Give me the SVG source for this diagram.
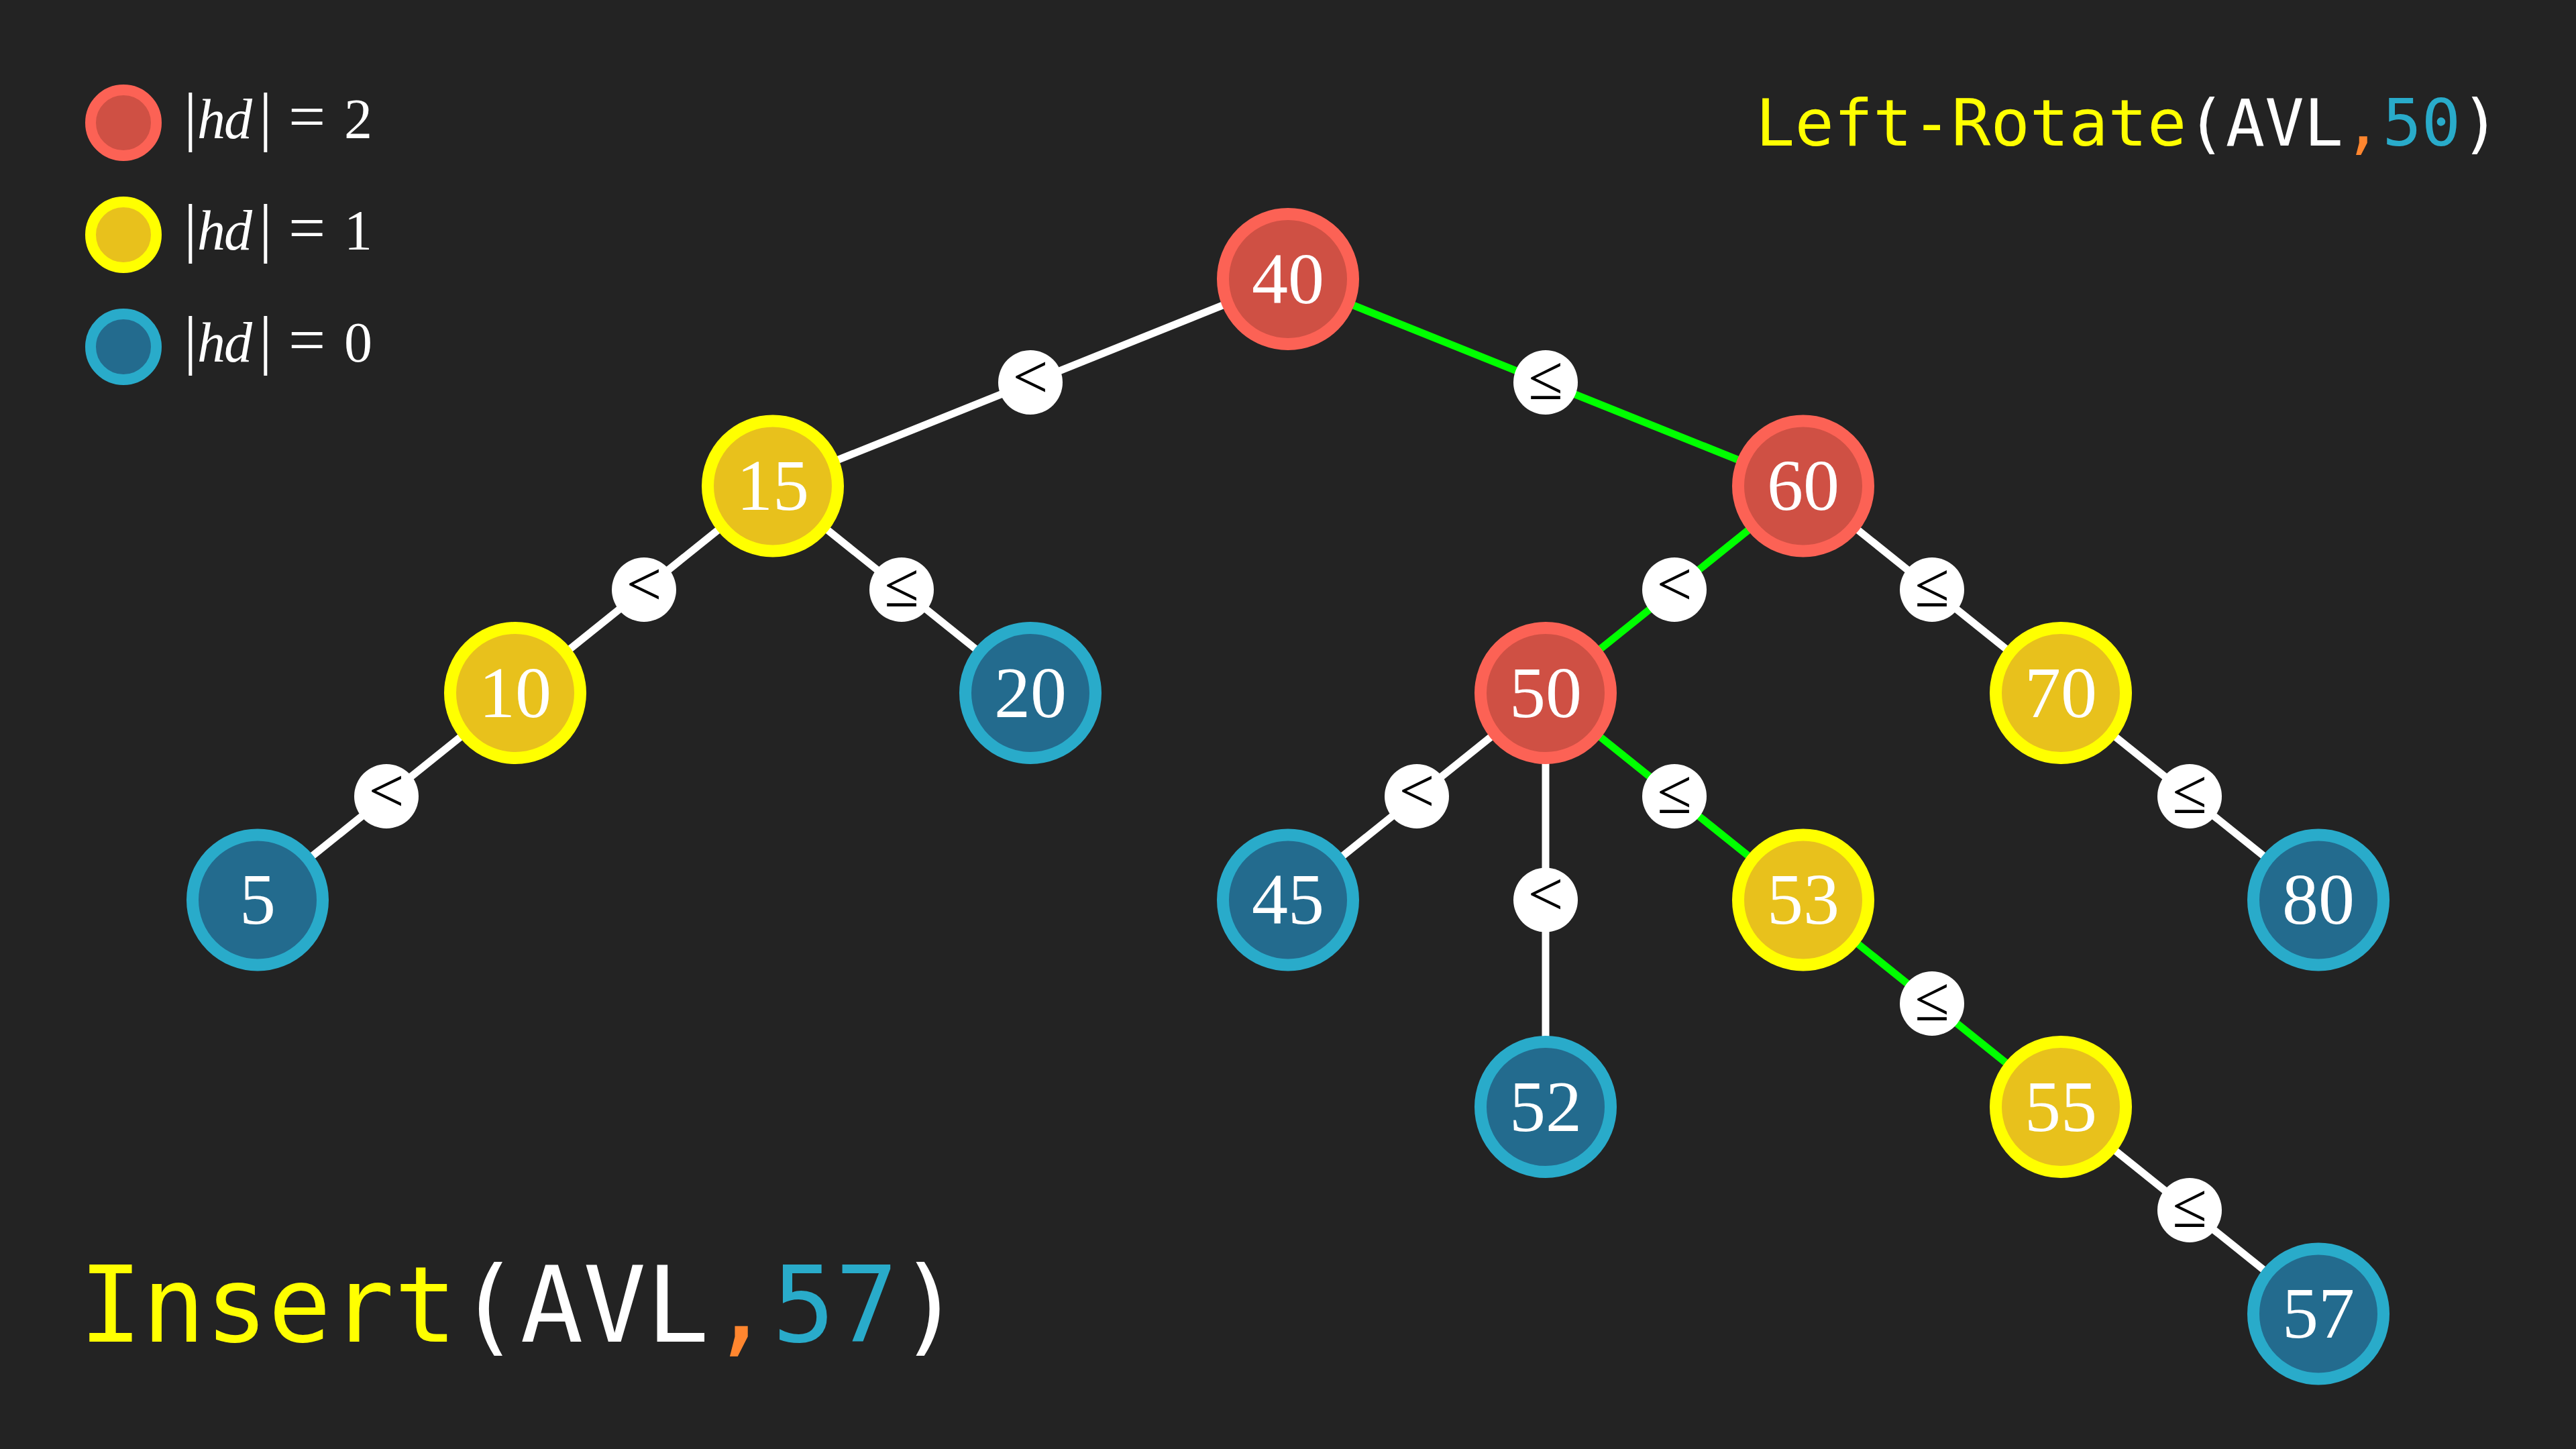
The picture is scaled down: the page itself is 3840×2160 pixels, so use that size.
<svg xmlns="http://www.w3.org/2000/svg" width="3840" height="2160" viewBox="0 0 3840 2160">
<style>
.bg{fill:#232323}
.e{stroke-width:11;stroke-linecap:butt}
.w{stroke:#FFFFFF}
.g{stroke:#00FF00}
.lc{fill:#FFFFFF}
.lt{font-family:"Liberation Serif","DejaVu Serif",serif;font-size:94px;fill:#000000;text-anchor:middle}
.red{fill:#CF5044;stroke:#FC6255;stroke-width:18}
.yel{fill:#E8C11C;stroke:#FFFF00;stroke-width:18}
.blu{fill:#236B8E;stroke:#29ABCA;stroke-width:18}
.nt{font-family:"Liberation Serif","DejaVu Serif",serif;font-size:108px;fill:#FFFFFF;text-anchor:middle}
.lg{font-family:"Liberation Serif","DejaVu Serif",serif;font-size:84px;fill:#FFFFFF}
.it{font-style:italic}
.big{font-size:98px}
.mono{font-family:"DejaVu Sans Mono","Liberation Mono",monospace}
</style>
<rect class="bg" x="0" y="0" width="3840" height="2160"/>

<g id="legend">
  <g id="legend-red">
    <circle cx="184" cy="183" r="49" fill="#CF5044" stroke="#FC6255" stroke-width="16"/>
    <text class="lg" y="206"><tspan class="big" x="274">|</tspan><tspan class="it" x="294">h</tspan><tspan class="it" x="334">d</tspan><tspan class="big" x="386">|</tspan><tspan class="big" x="430">=</tspan><tspan x="513">2</tspan></text>
  </g>
  <g id="legend-yellow">
    <circle cx="184" cy="350" r="49" fill="#E8C11C" stroke="#FFFF00" stroke-width="16"/>
    <text class="lg" y="372"><tspan class="big" x="274">|</tspan><tspan class="it" x="294">h</tspan><tspan class="it" x="334">d</tspan><tspan class="big" x="386">|</tspan><tspan class="big" x="430">=</tspan><tspan x="513">1</tspan></text>
  </g>
  <g id="legend-blue">
    <circle cx="184" cy="517" r="49" fill="#236B8E" stroke="#29ABCA" stroke-width="16"/>
    <text class="lg" y="539"><tspan class="big" x="274">|</tspan><tspan class="it" x="294">h</tspan><tspan class="it" x="334">d</tspan><tspan class="big" x="386">|</tspan><tspan class="big" x="430">=</tspan><tspan x="513">0</tspan></text>
  </g>
</g>

<g id="title">
  <text class="mono" x="2617" y="217" font-size="97"><tspan fill="#FFFF00">Left-Rotate</tspan><tspan fill="#FFFFFF">(AVL</tspan><tspan fill="#FF862F">,</tspan><tspan fill="#29ABCA">50</tspan><tspan fill="#FFFFFF">)</tspan></text>
</g>

<g id="operation">
  <text class="mono" x="118" y="2000" font-size="156"><tspan fill="#FFFF00">Insert</tspan><tspan fill="#FFFFFF">(AVL</tspan><tspan fill="#FF862F">,</tspan><tspan fill="#29ABCA">57</tspan><tspan fill="#FFFFFF">)</tspan></text>
</g>

<g id="connectors">
  <line class="e w" x1="1920" y1="416" x2="1152" y2="724.5"/>
  <line class="e g" x1="1920" y1="416" x2="2688" y2="724.5"/>
  <line class="e w" x1="1152" y1="724.5" x2="768" y2="1033"/>
  <line class="e w" x1="1152" y1="724.5" x2="1536" y2="1033"/>
  <line class="e w" x1="768" y1="1033" x2="384" y2="1341.5"/>
  <line class="e g" x1="2688" y1="724.5" x2="2304" y2="1033"/>
  <line class="e w" x1="2688" y1="724.5" x2="3072" y2="1033"/>
  <line class="e w" x1="2304" y1="1033" x2="1920" y2="1341.5"/>
  <line class="e w" x1="2304" y1="1033" x2="2304" y2="1650"/>
  <line class="e g" x1="2304" y1="1033" x2="2688" y2="1341.5"/>
  <line class="e w" x1="3072" y1="1033" x2="3456" y2="1341.5"/>
  <line class="e g" x1="2688" y1="1341.5" x2="3072" y2="1650"/>
  <line class="e w" x1="3072" y1="1650" x2="3456" y2="1958.5"/>

  <g id="edge-labels">
    <circle class="lc" cx="1536" cy="570" r="48"/><text class="lt" x="1536" y="593">&lt;</text>
    <circle class="lc" cx="2304" cy="570" r="48"/><text class="lt" x="2304" y="595">≤</text>
    <circle class="lc" cx="960" cy="879" r="48"/><text class="lt" x="960" y="902">&lt;</text>
    <circle class="lc" cx="1344" cy="879" r="48"/><text class="lt" x="1344" y="904">≤</text>
    <circle class="lc" cx="576" cy="1187" r="48"/><text class="lt" x="576" y="1210">&lt;</text>
    <circle class="lc" cx="2496" cy="879" r="48"/><text class="lt" x="2496" y="902">&lt;</text>
    <circle class="lc" cx="2880" cy="879" r="48"/><text class="lt" x="2880" y="904">≤</text>
    <circle class="lc" cx="2112" cy="1187" r="48"/><text class="lt" x="2112" y="1210">&lt;</text>
    <circle class="lc" cx="2304" cy="1341.5" r="48"/><text class="lt" x="2304" y="1364">&lt;</text>
    <circle class="lc" cx="2496" cy="1187" r="48"/><text class="lt" x="2496" y="1212">≤</text>
    <circle class="lc" cx="3264" cy="1187" r="48"/><text class="lt" x="3264" y="1212">≤</text>
    <circle class="lc" cx="2880" cy="1496" r="48"/><text class="lt" x="2880" y="1521">≤</text>
    <circle class="lc" cx="3264" cy="1804" r="48"/><text class="lt" x="3264" y="1829">≤</text>
  </g>
</g>

<g id="node-40"><circle class="red" cx="1920" cy="416" r="97"/><text class="nt" x="1920" y="452">40</text></g>
<g id="node-15"><circle class="yel" cx="1152" cy="724.5" r="97"/><text class="nt" x="1152" y="760">15</text></g>
<g id="node-60"><circle class="red" cx="2688" cy="724.5" r="97"/><text class="nt" x="2688" y="760">60</text></g>
<g id="node-10"><circle class="yel" cx="768" cy="1033" r="97"/><text class="nt" x="768" y="1069">10</text></g>
<g id="node-20"><circle class="blu" cx="1536" cy="1033" r="97"/><text class="nt" x="1536" y="1069">20</text></g>
<g id="node-50"><circle class="red" cx="2304" cy="1033" r="97"/><text class="nt" x="2304" y="1069">50</text></g>
<g id="node-70"><circle class="yel" cx="3072" cy="1033" r="97"/><text class="nt" x="3072" y="1069">70</text></g>
<g id="node-5"><circle class="blu" cx="384" cy="1341.5" r="97"/><text class="nt" x="384" y="1377">5</text></g>
<g id="node-45"><circle class="blu" cx="1920" cy="1341.5" r="97"/><text class="nt" x="1920" y="1377">45</text></g>
<g id="node-53"><circle class="yel" cx="2688" cy="1341.5" r="97"/><text class="nt" x="2688" y="1377">53</text></g>
<g id="node-80"><circle class="blu" cx="3456" cy="1341.5" r="97"/><text class="nt" x="3456" y="1377">80</text></g>
<g id="node-52"><circle class="blu" cx="2304" cy="1650" r="97"/><text class="nt" x="2304" y="1686">52</text></g>
<g id="node-55"><circle class="yel" cx="3072" cy="1650" r="97"/><text class="nt" x="3072" y="1686">55</text></g>
<g id="node-57"><circle class="blu" cx="3456" cy="1958.5" r="97"/><text class="nt" x="3456" y="1994">57</text></g>
</svg>
